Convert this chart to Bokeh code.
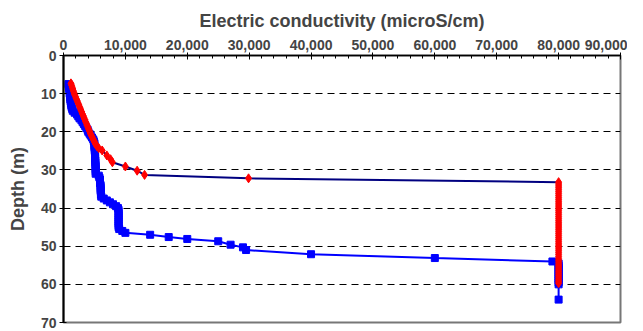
from bokeh.plotting import figure
from bokeh.models import Range1d, FixedTicker, NumeralTickFormatter, Title
from bokeh.embed import file_html
from bokeh.resources import INLINE

# Blue series (squares)
blue_depth = [7.5, 8, 8.5, 9, 9.5, 10, 10.5, 11, 11.5, 12, 12.5, 13, 13.5, 14, 14.5,
              15, 15.5, 16, 16.5, 17, 17.5, 18, 18.5, 19, 19.5, 20, 20.5, 21, 21.5,
              22, 22.5, 23, 23.5, 24, 24.5, 25, 25.5, 26, 26.5, 27, 27.5, 28, 28.5,
              29, 29.5, 30, 30.5, 31, 31.5, 32, 32.5, 33, 33.5, 34, 34.5, 35, 35.5,
              36, 36.5, 37, 37.5, 38, 38.5, 39, 39.5, 40, 40.5, 41, 41.5, 42, 42.5,
              43, 43.5, 44, 44.5, 45, 45.5, 46, 46.5,
              47, 47.6, 48.1, 48.7, 49.6, 50.3, 51, 52.1, 53.1, 54,
              54.5, 55, 55.5, 56, 56.5, 57, 57.5, 58, 58.5, 59, 59.5, 60, 64]
blue_ec = [800, 850, 900, 950, 1000, 1000, 1050, 1100, 1100, 1150, 1200, 1250, 1300, 1400, 1500,
           1800, 2200, 2400, 2600, 2900, 3100, 3300, 3500, 3700, 3900, 4000, 4200, 4400, 4600,
           4800, 4900, 5000, 5000, 5000, 5050, 5050, 5100, 5100, 5100, 5100, 5150, 5150, 5150,
           5200, 5200, 5200, 5200, 5200, 5700, 5800, 5900, 5900, 5900, 6000, 6000, 6000, 6000,
           6050, 6050, 6100, 6500, 7000, 7500, 8000, 8500, 8800, 8900, 8900, 8900, 8900, 8900,
           8900, 8900, 8900, 8900, 8900, 9000, 9500, 10000,
           14000, 17000, 20000, 25000, 27000, 29000, 29500, 40000, 60000, 79000,
           80000, 80000, 80000, 80000, 80000, 80000, 80000, 80000, 80000, 80000, 80000, 80000, 80000]

# Red series (diamonds)
red_depth = [7.3, 7.8, 8.3, 8.8, 9.3, 9.8, 10.3, 10.8, 11.3, 11.8, 12.3, 12.8, 13.3, 13.8,
             14.3, 14.8, 15.3, 15.8, 16.3, 16.8, 17.3, 17.8, 18.3, 18.8, 19.3, 19.8, 20.3,
             20.8, 21.3, 21.8, 22.3, 22.8, 23.3, 23.8, 24.3, 24.9, 26.2, 27.2, 28, 29.1, 30.2,
             31.3, 32.2,
             33.2, 33.7, 34.2, 34.7, 35.2, 35.7, 36.2, 36.7, 37.2, 37.7, 38.2, 38.7, 39.2,
             39.7, 40.2, 40.7, 41.2, 41.7, 42.2, 42.7, 43.2, 43.7, 44.2, 44.7, 45.2, 45.7,
             46.2, 46.7, 47.2, 47.7, 48.2, 48.7, 49.2, 49.7, 50.2, 50.7, 51.2, 51.7, 52.2,
             52.7, 53.2, 53.7, 54.2, 54.7, 55.2, 55.7, 56.2, 56.7, 57.2, 57.7, 58.2, 58.7,
             59.2, 59.7]
red_ec = [1200, 1300, 1400, 1500, 1600, 1700, 1800, 1950, 2050, 2200, 2300, 2450, 2550, 2700,
          2800, 2950, 3050, 3200, 3300, 3450, 3550, 3700, 3800, 3950, 4050, 4200, 4300,
          4450, 4600, 4750, 4900, 5050, 5200, 5400, 5700, 6250, 7000, 7600, 7900, 10000, 11900,
          13100, 29900,
          80000, 80000, 80000, 80000, 80000, 80000, 80000, 80000, 80000, 80000, 80000, 80000, 80000,
          80000, 80000, 80000, 80000, 80000, 80000, 80000, 80000, 80000, 80000, 80000, 80000, 80000,
          80000, 80000, 80000, 80000, 80000, 80000, 80000, 80000, 80000, 80000, 80000, 80000, 80000,
          80000, 80000, 80000, 80000, 80000, 80000, 80000, 80000, 80000, 80000, 80000, 80000, 80000,
          80000, 80000]

x_ticks = [0, 10000, 20000, 30000, 40000, 50000, 60000, 70000, 80000, 90000]
x_minor = list(range(0, 90001, 2000))
y_ticks = [0, 10, 20, 30, 40, 50, 60, 70]

FONT = "Liberation Sans"

p = figure(width=627, height=331, output_backend="svg", toolbar_location=None,
           x_range=Range1d(0, 90000), y_range=Range1d(70, 0),
           x_axis_location="above",
           min_border_left=63, min_border_right=7, min_border_top=55, min_border_bottom=9)

p.background_fill_color = "white"
p.border_fill_color = "white"
p.outline_line_color = "#777777"
p.outline_line_width = 2

xa = p.xaxis[0]
xa.ticker = FixedTicker(ticks=x_ticks, minor_ticks=x_minor)
xa.formatter = NumeralTickFormatter(format="0,0")
xa.major_label_text_font = FONT
xa.major_label_text_font_style = "bold"
xa.major_label_text_font_size = "14px"
xa.major_label_standoff = 3
xa.axis_line_color = "black"
xa.axis_line_width = 1.5
xa.major_tick_in = 4
xa.major_tick_out = 3
xa.minor_tick_in = 3
xa.minor_tick_out = 0

title = Title(text="Electric conductivity (microS/cm)", align="center", offset=-7,
              text_font=FONT, text_font_style="bold", text_font_size="18px",
              standoff=12)
p.add_layout(title, "above")

ya = p.yaxis[0]
ya.ticker = FixedTicker(ticks=y_ticks)
ya.axis_label = "Depth (m)"
ya.axis_label_text_font = FONT
ya.axis_label_text_font_style = "bold"
ya.axis_label_text_font_size = "18px"
ya.axis_label_standoff = 10
ya.major_label_text_font = FONT
ya.major_label_text_font_style = "bold"
ya.major_label_text_font_size = "14px"
ya.major_label_standoff = 3
ya.axis_line_color = "black"
ya.axis_line_width = 2
ya.major_tick_in = 3
ya.major_tick_out = 4
ya.minor_tick_line_color = None

p.xgrid.grid_line_color = None
p.ygrid.ticker = FixedTicker(ticks=[10, 20, 30, 40, 50, 60])
p.ygrid.grid_line_color = "black"
p.ygrid.grid_line_dash = "7 5"
p.ygrid.grid_line_width = 1

# Blue series
p.line(blue_ec, blue_depth, line_color="#0000FF", line_width=2)
p.scatter(blue_ec, blue_depth, marker="square", size=7, fill_color="#0000FF",
          line_color="#0000FF")

# Red series
p.line(red_ec, red_depth, line_color="#000080", line_width=2)
p.scatter(red_ec, red_depth, marker="diamond", size=9, fill_color="#FF0000",
          line_color="#FF0000")

open("out.html", "w").write(file_html(p, INLINE))
